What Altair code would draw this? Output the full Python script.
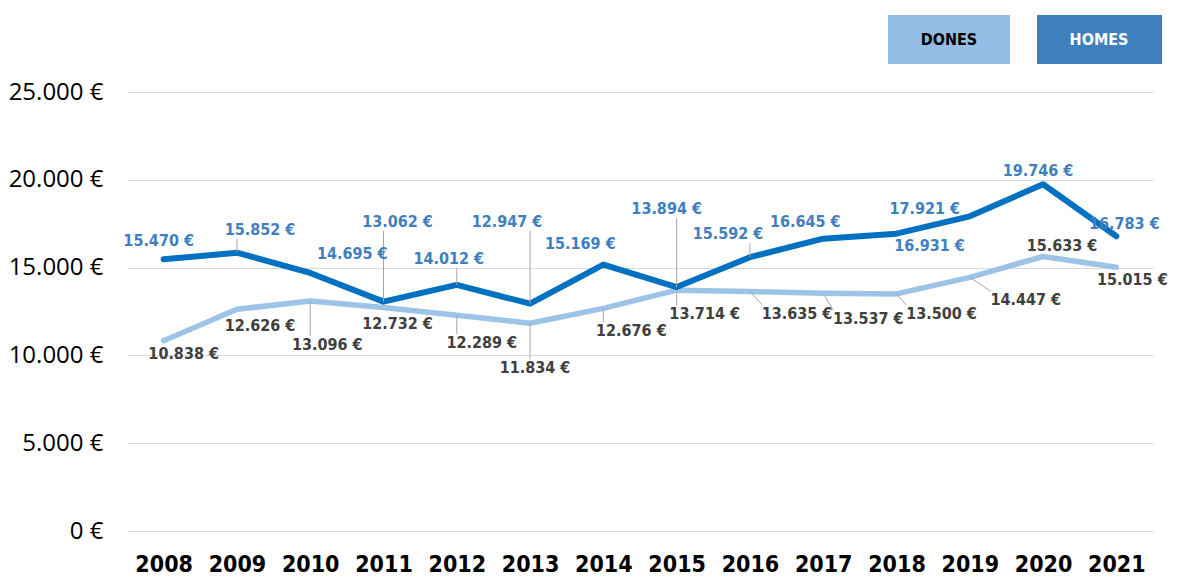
import altair as alt
import pandas as pd

years = list(range(2008, 2022))
homes = [15470, 15852, 14695, 13062, 14012, 12947, 15169, 13894, 15592, 16645, 16931, 17921, 19746, 16783]
dones = [10838, 12626, 13096, 12732, 12289, 11834, 12676, 13714, 13635, 13537, 13500, 14447, 15633, 15015]
series_names = ["HOMES", "DONES"]
y_ticks = [0, 5000, 10000, 15000, 20000, 25000]

# label placement (pixel offsets from each point) and leader-line flags: styling only
homes_dx = [-5, 23, 42, 14, -8, -23, -23, -10, -22, -18, 33, -45, -5, 8]
homes_dy = [-18, -23, -19, -80, -26, -82, -21, -78, -23, -17, 12, -7, -13, -12]
homes_lead = [0, 1, 0, 1, 1, 1, 0, 1, 1, 0, 0, 0, 0, 0]
dones_dx = [20, 23, 17, 14, 25, 5, 28, 28, 47, 45, 45, 56, 19, 16]
dones_dy = [13, 17, 44, 17, 28, 45, 23, 24, 22, 26, 20, 23, -10, 13]
dones_lead = [0, 0, 1, 0, 1, 1, 1, 1, 1, 1, 1, 1, 0, 0]


def fmt(v):
    return f"{v:,}".replace(",", ".") + " €"


rows = []
for name, vals, dxs, dys, leads in [
    ("HOMES", homes, homes_dx, homes_dy, homes_lead),
    ("DONES", dones, dones_dx, dones_dy, dones_lead),
]:
    for y, v, dx, dy, ld in zip(years, vals, dxs, dys, leads):
        rows.append({"year": y, "series": name, "value": v, "label": fmt(v),
                     "dx": dx, "dy": dy, "lead": ld})
df = pd.DataFrame(rows)

W, H = 1026, 439
X_DOMAIN = [2007.5, 2021.5]
Y_MAX = 25000
PX_X = W / (X_DOMAIN[1] - X_DOMAIN[0])
PX_Y = H / Y_MAX

FONT = "DejaVu Sans Condensed, sans-serif"
HOMES_C = "#0070C0"
DONES_C = "#9DC3E6"

xs = alt.Scale(domain=X_DOMAIN, nice=False, zero=False)
ys = alt.Scale(domain=[0, Y_MAX], nice=False)

x_axis = alt.Axis(title=None, values=years, format="d", labelAngle=0, labelFont=FONT,
                  labelFontSize=23, labelFontWeight="bold", labelColor="#000000",
                  ticks=False, domain=False, labelPadding=22, grid=False)
y_axis = alt.Axis(title=None, values=y_ticks,
                  labelExpr="replace(format(datum.value, ',.0f'), ',', '.') + ' €'",
                  labelFont="Open Sans, sans-serif", labelFontSize=24,
                  labelColor="#000000", ticks=False, domain=False,
                  labelPadding=24, gridColor="#D9D9D9", gridWidth=1)

base = alt.Chart(df).transform_calculate(
    lx=f"datum.year + datum.dx / {PX_X}",
    ly=f"datum.value - datum.dy / {PX_Y}",
    ex=f"datum.year + clamp(0, datum.dx - 35, datum.dx + 35) / {PX_X}",
    ey=f"datum.value - clamp(0, datum.dy - 9, datum.dy + 9) / {PX_Y}",
)

dones_line = base.transform_filter(alt.datum.series == "DONES").mark_line(
    strokeWidth=5.5, strokeCap="round", strokeJoin="round", color=DONES_C
).encode(x=alt.X("year:Q", scale=xs, axis=x_axis), y=alt.Y("value:Q", scale=ys, axis=y_axis))

homes_line = base.transform_filter(alt.datum.series == "HOMES").mark_line(
    strokeWidth=6, strokeCap="round", strokeJoin="round", color=HOMES_C
).encode(x=alt.X("year:Q", scale=xs), y=alt.Y("value:Q", scale=ys))

leaders = base.transform_filter(alt.datum.lead == 1).mark_rule(
    color="#A6A6A6", strokeWidth=1
).encode(x=alt.X("year:Q", scale=xs), y=alt.Y("value:Q", scale=ys),
         x2="ex:Q", y2="ey:Q")

homes_text = base.transform_filter(alt.datum.series == "HOMES").mark_text(
    font=FONT, fontSize=16, fontWeight="bold", color="#3F7FC1", baseline="middle"
).encode(x=alt.X("lx:Q", scale=xs), y=alt.Y("ly:Q", scale=ys), text="label:N")

dones_text = base.transform_filter(alt.datum.series == "DONES").mark_text(
    font=FONT, fontSize=16, fontWeight="bold", color="#404040", baseline="middle"
).encode(x=alt.X("lx:Q", scale=xs), y=alt.Y("ly:Q", scale=ys), text="label:N")

leg_df = pd.DataFrame({"series": ["DONES"]})
leg_dones = alt.Chart(leg_df).mark_rect(color="#93BDE4").encode(
    x=alt.value(761), x2=alt.value(883), y=alt.value(-77), y2=alt.value(-28))
leg_homes = alt.Chart(leg_df).mark_rect(color="#3E7FBD").encode(
    x=alt.value(910), x2=alt.value(1035), y=alt.value(-77), y2=alt.value(-28))
leg_dones_t = alt.Chart(leg_df).mark_text(font=FONT, fontSize=16, fontWeight="bold",
                                          color="#000000").encode(
    x=alt.value(822), y=alt.value(-52), text=alt.value("DONES"))
leg_homes_t = alt.Chart(leg_df).mark_text(font=FONT, fontSize=16, fontWeight="bold",
                                          color="#FFFFFF").encode(
    x=alt.value(972), y=alt.value(-52), text=alt.value("HOMES"))

chart = alt.layer(
    dones_line, homes_line, leaders, homes_text, dones_text,
    leg_dones, leg_homes, leg_dones_t, leg_homes_t
).properties(
    width=W, height=H,
    autosize=alt.AutoSizeParams(type="none"),
    padding={"left": 119, "top": 84, "right": 18, "bottom": 44},
    background="#FFFFFF",
).configure_view(strokeWidth=0)

chart.save("out.html", embed_options={"renderer": "svg", "actions": False})
